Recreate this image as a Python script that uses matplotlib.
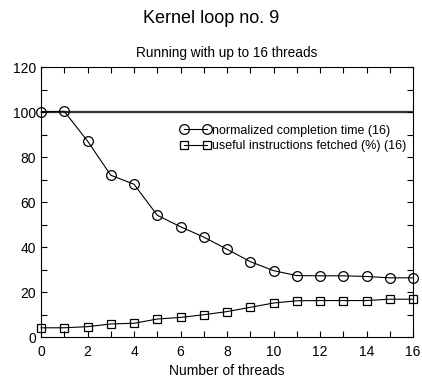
import numpy as np
import matplotlib.pyplot as plt
from matplotlib.ticker import MultipleLocator

plt.rcParams['font.family'] = ['Liberation Sans', 'DejaVu Sans']

threads = list(range(17))
completion = [100, 100.3, 87.1, 71.9, 67.9, 54.1, 49.0, 44.4, 39.0, 33.5,
              29.5, 27.3, 27.2, 27.2, 26.9, 26.3, 26.3]
useful = [4.1, 4.1, 4.6, 5.8, 6.1, 8.0, 8.7, 9.9, 11.3, 13.2,
          15.1, 16.1, 16.2, 16.2, 16.2, 16.8, 16.8]

fig = plt.figure(figsize=(4.22, 3.79), dpi=100)
ax = fig.add_axes([0.0972, 0.1108, 0.8815, 0.7124])

ax.axhline(100, color='#333333', linewidth=1.6, zorder=1)
ax.plot(threads, completion, color='black', linewidth=0.8, marker='o',
        markersize=7, markerfacecolor='none', markeredgewidth=0.9,
        label='normalized completion time (16)', clip_on=False, zorder=3)
ax.plot(threads, useful, color='black', linewidth=0.8, marker='s',
        markersize=5.8, markerfacecolor='none', markeredgewidth=0.9,
        label='useful instructions fetched (%) (16)', clip_on=False, zorder=3)

ax.set_xlim(0, 16)
ax.set_ylim(0, 120)
ax.xaxis.set_major_locator(MultipleLocator(2))
ax.xaxis.set_minor_locator(MultipleLocator(1))
ax.yaxis.set_major_locator(MultipleLocator(20))
ax.yaxis.set_minor_locator(MultipleLocator(10))
ax.tick_params(which='both', direction='in', top=True, right=True,
               labelsize=10, width=0.8, length=4)
ax.tick_params(axis='x', pad=6)
for s in ax.spines.values():
    s.set_linewidth(0.8)

ax.set_xlabel('Number of threads', fontsize=10, labelpad=3)
ax.set_title('Running with up to 16 threads', fontsize=9.8, pad=7)
fig.text(0.5, 0.952, 'Kernel loop no. 9', ha='center', va='center', fontsize=13)

ax.legend(loc='upper right', bbox_to_anchor=(0.983, 0.787), frameon=False,
          fontsize=9, numpoints=2, handlelength=2.4, handletextpad=0.15,
          labelspacing=0.3, borderaxespad=0, borderpad=0)

fig.savefig('out.png', dpi=100)
